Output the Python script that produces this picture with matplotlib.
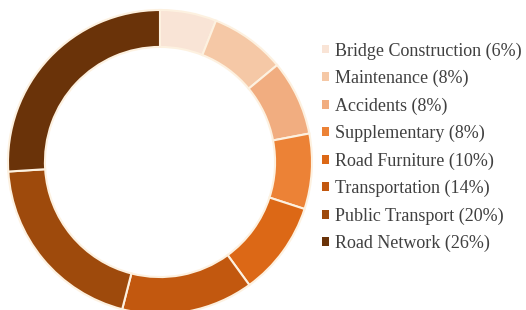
import matplotlib
matplotlib.use("Agg")
import matplotlib.pyplot as plt
from matplotlib.patches import Patch
from matplotlib import font_manager

categories = ["Bridge Construction", "Maintenance", "Accidents", "Supplementary",
              "Road Furniture", "Transportation", "Public Transport", "Road Network"]
values = [6, 8, 8, 8, 10, 14, 20, 26]
colors = ["#f9e4d6", "#f5c8a6", "#f1ad80", "#ec8236", "#dc6816", "#c2580f",
          "#9e4a0c", "#6a3309"]

names = {f.name for f in font_manager.fontManager.ttflist}
serif = "Liberation Serif" if "Liberation Serif" in names else "DejaVu Serif"
plt.rcParams["font.family"] = "serif"
plt.rcParams["font.serif"] = [serif, "TeX Gyre Termes", "DejaVu Serif"]

W, H = 526, 310
fig = plt.figure(figsize=(W / 100, H / 100), dpi=100)
cx, cy, r = 160, 162, 152
ax = fig.add_axes([(cx - r) / W, (H - cy - r) / H, 2 * r / W, 2 * r / H])
ax.pie(values, colors=colors, startangle=90, counterclock=False, radius=1,
       wedgeprops=dict(width=0.243, edgecolor="#fdf1e0", linewidth=1.5))
ax.set_xlim(-1, 1)
ax.set_ylim(-1, 1)
ax.set_aspect("equal")
ax.axis("off")

labels = [f"{c} ({v}%)" for c, v in zip(categories, values)]
handles = [Patch(facecolor=c, edgecolor="none") for c in colors]
fig.legend(handles, labels, loc="upper left", bbox_to_anchor=(306 / W, 1 - 26 / H),
           frameon=False, prop=dict(size=13),
           handlelength=0.38, handleheight=0.38, handletextpad=0.33,
           labelspacing=0.565, labelcolor="#404040")
fig.savefig("out.png", dpi=100)
